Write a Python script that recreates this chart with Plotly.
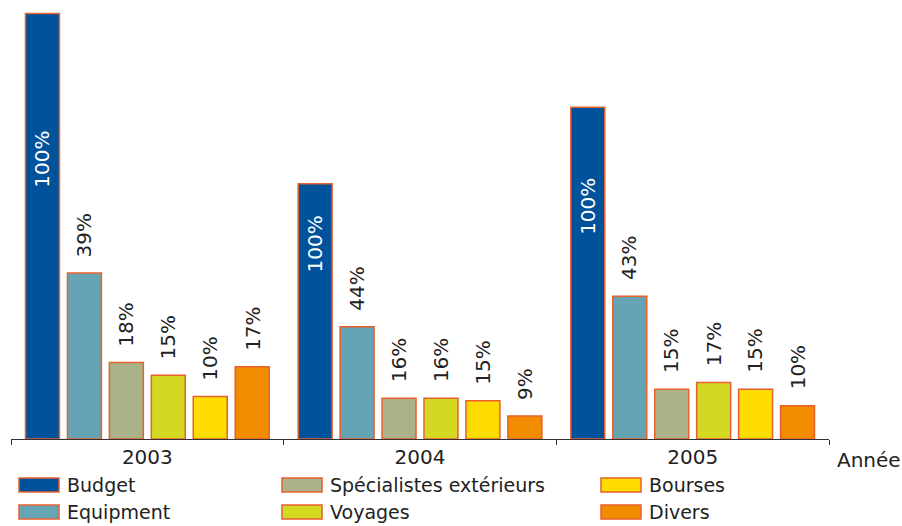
import plotly.graph_objects as go

# Annual budget (relative units) and each spending item as a share of that year's budget
years = ["2003", "2004", "2005"]
budget = [100, 60, 78]
series = ["Budget", "Equipment", "Spécialistes extérieurs", "Voyages", "Bourses", "Divers"]
pct_budget = [100, 100, 100]
pct_equipment = [39, 44, 43]
pct_specialistes = [18, 16, 15]
pct_voyages = [15, 16, 17]
pct_bourses = [10, 15, 15]
pct_divers = [17, 9, 10]
colors = ["#00529B", "#64A4B4", "#A9B288", "#D3D823", "#FFDC00", "#F18C00"]

shares = [pct_budget, pct_equipment, pct_specialistes, pct_voyages, pct_bourses, pct_divers]

W, H = 902, 526
ML, MR, MT, MB = 11, 73, 8, 87
FONT = "DejaVu Sans"
TXT = "#222222"
EDGE = "#E8602C"
BARGAP, GROUPGAP = 0.077, 0.19

fig = go.Figure()
for name, col, pct in zip(series, colors, shares):
    fig.add_trace(go.Bar(
        x=years,
        y=[b * p / 100 for b, p in zip(budget, pct)],
        name=name,
        marker=dict(color=col, line=dict(color=EDGE, width=1.5)),
        showlegend=False,
    ))

# Percentage labels, rotated, placed over each bar
n = len(series)
slot = (1 - BARGAP) / n
annotations = []
for j, pct in enumerate(shares):
    for i, (b, p) in enumerate(zip(budget, pct)):
        xpos = i - (1 - BARGAP) / 2 + (j + 0.5) * slot
        value = b * p / 100
        if j == 0:
            annotations.append(dict(
                x=xpos, y=value / 2, xref="x", yref="y", text=f"{p}%",
                textangle=-90, showarrow=False, yanchor="middle", xanchor="center",
                yshift=67, font=dict(family=FONT, size=20, color="white"),
            ))
        else:
            annotations.append(dict(
                x=xpos, y=value, xref="x", yref="y", text=f"{p}%",
                textangle=-90, showarrow=False, yanchor="bottom", xanchor="center",
                yshift=14, font=dict(family=FONT, size=20, color=TXT),
            ))

pw, ph = W - ML - MR, H - MT - MB


def px_x(px):
    return (px - ML) / pw


def px_y(py):
    return (H - MB - py) / ph


# Axis title at the right end of the category axis
annotations.append(dict(
    x=px_x(835), y=px_y(460), xref="paper", yref="paper", text="Année",
    showarrow=False, xanchor="left", yanchor="middle",
    font=dict(family=FONT, size=20, color=TXT),
))

# Legend: three columns of two entries, with wide swatches
shapes = []
col_x = [19, 282, 601]
row_y = [485, 512]
for k, (name, col) in enumerate(zip(series, colors)):
    cx = col_x[k // 2]
    cy = row_y[k % 2]
    shapes.append(dict(
        type="rect", xref="paper", yref="paper",
        x0=px_x(cx), x1=px_x(cx + 40), y0=px_y(cy + 7), y1=px_y(cy - 7),
        fillcolor=col, line=dict(color=EDGE, width=1.5),
    ))
    annotations.append(dict(
        x=px_x(cx + 46), y=px_y(cy), xref="paper", yref="paper", text=name,
        showarrow=False, xanchor="left", yanchor="middle",
        font=dict(family=FONT, size=19, color=TXT),
    ))

fig.update_layout(
    width=W, height=H,
    margin=dict(l=ML, r=MR, t=MT, b=MB),
    paper_bgcolor="white", plot_bgcolor="white",
    barmode="group", bargap=BARGAP, bargroupgap=GROUPGAP,
    showlegend=False,
    annotations=annotations,
    shapes=shapes,
    xaxis=dict(
        type="category", range=[-0.5, 2.5],
        showline=True, linecolor="#333333", linewidth=1,
        ticks="outside", tickson="boundaries", ticklen=5, tickcolor="#333333",
        tickfont=dict(family=FONT, size=20, color=TXT),
        showgrid=False, zeroline=False, fixedrange=True,
    ),
    yaxis=dict(visible=False, range=[0, max(budget) * 1.013], fixedrange=True),
)

fig.write_html("out.html")
